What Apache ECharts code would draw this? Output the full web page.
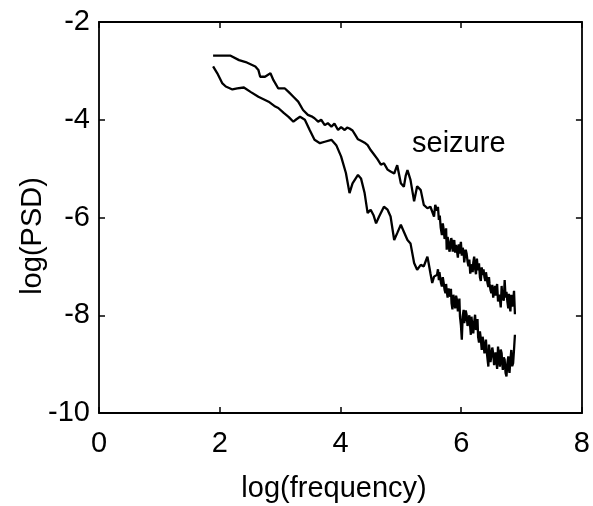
<!DOCTYPE html>
<html>
<head>
<meta charset="utf-8">
<script src="https://cdn.jsdelivr.net/npm/echarts@6/dist/echarts.min.js"></script>
<style>
  html, body { margin: 0; padding: 0; background: #fff; }
  #main { width: 593px; height: 506px; }
</style>
</head>
<body>
<div id="main"></div>
<script>
// seizure spectrum (upper curve)
var seizureLogF = [1.89, 2.18, 2.32, 2.43, 2.59, 2.64, 2.67, 2.75, 2.84, 2.89, 2.97, 3.08, 3.14, 3.22, 3.30, 3.38, 3.46, 3.52, 3.57, 3.63,
    3.68, 3.74, 3.79, 3.85, 3.90, 3.96, 4.01, 4.07, 4.11, 4.15, 4.20, 4.24, 4.29, 4.34, 4.40, 4.45, 4.50, 4.55, 4.61, 4.67,
    4.72, 4.78, 4.83, 4.89, 4.94, 5.00, 5.05, 5.08, 5.11, 5.16, 5.22, 5.27, 5.33, 5.38, 5.44, 5.49, 5.55, 5.57,
    5.60, 5.615, 5.63, 5.645, 5.66, 5.68, 5.695, 5.71, 5.725, 5.74, 5.75, 5.76, 5.775, 5.79, 5.805, 5.82, 5.835, 5.85, 5.86, 5.87,
    5.885, 5.90, 5.915, 5.93, 5.945, 5.96, 5.97, 5.98, 5.995, 6.01, 6.025, 6.04, 6.05, 6.06, 6.075, 6.09, 6.105, 6.12, 6.135, 6.15,
    6.165, 6.18, 6.19, 6.20, 6.215, 6.23, 6.245, 6.26, 6.27, 6.28, 6.295, 6.31, 6.325, 6.34, 6.355, 6.37, 6.385, 6.40, 6.41, 6.42,
    6.435, 6.45, 6.46, 6.47, 6.485, 6.50, 6.515, 6.53, 6.545, 6.56, 6.57, 6.58, 6.595, 6.61, 6.625, 6.64, 6.655, 6.67, 6.68, 6.69,
    6.705, 6.72, 6.735, 6.75, 6.765, 6.78, 6.79, 6.80, 6.815, 6.83, 6.845, 6.86, 6.875, 6.89];
var seizureLogPSD = [-2.69, -2.69, -2.78, -2.82, -2.91, -2.98, -3.12, -3.12, -3.05, -3.19, -3.36, -3.36, -3.43, -3.53, -3.63, -3.80, -3.90, -3.93, -3.97, -4.04,
    -4.00, -4.11, -4.07, -4.14, -4.08, -4.21, -4.15, -4.21, -4.16, -4.18, -4.22, -4.30, -4.40, -4.43, -4.47, -4.52, -4.62, -4.70, -4.80, -4.92,
    -4.89, -5.02, -5.06, -5.10, -4.93, -5.30, -5.37, -5.15, -5.03, -5.23, -5.67, -5.36, -5.44, -5.74, -5.81, -5.78, -5.98, -5.74,
    -5.86, -5.78, -6.05, -5.96, -6.20, -6.36, -6.12, -6.25, -6.44, -6.38, -6.22, -6.66, -6.40, -6.49, -6.70, -6.62, -6.42, -6.50, -6.70, -6.58,
    -6.46, -6.72, -6.56, -6.68, -6.82, -6.55, -6.74, -6.62, -6.50, -6.78, -6.62, -6.70, -6.92, -6.88, -6.66, -6.74, -6.90, -7.00, -6.86, -7.15,
    -7.02, -6.96, -7.12, -6.92, -6.80, -7.05, -7.16, -6.84, -6.98, -7.08, -6.94, -7.22, -7.30, -7.02, -7.18, -7.06, -7.22, -7.30, -7.12, -7.20,
    -7.34, -7.42, -7.22, -7.36, -7.48, -7.55, -7.38, -7.64, -7.50, -7.40, -7.60, -7.46, -7.36, -7.72, -7.58, -7.66, -7.84, -7.40, -7.62, -7.58,
    -7.70, -7.28, -7.64, -7.52, -7.72, -7.86, -7.56, -7.80, -7.92, -7.58, -7.82, -7.72, -7.50, -7.98];

// background spectrum (lower curve)
var backgroundLogF = [1.89, 1.96, 2.04, 2.10, 2.21, 2.29, 2.40, 2.51, 2.64, 2.81, 2.92, 2.97, 3.06, 3.14, 3.22, 3.27, 3.33, 3.41, 3.49, 3.57,
    3.66, 3.74, 3.85, 3.93, 4.01, 4.09, 4.15, 4.20, 4.29, 4.34, 4.40, 4.45, 4.50, 4.55, 4.59, 4.64, 4.72, 4.78, 4.83, 4.89,
    4.94, 5.00, 5.05, 5.11, 5.16, 5.22, 5.27, 5.33, 5.38, 5.41, 5.44, 5.46, 5.49, 5.52, 5.55,
    5.60, 5.615, 5.63, 5.64, 5.65, 5.665, 5.68, 5.695, 5.71, 5.725, 5.74, 5.75, 5.76, 5.775, 5.79, 5.805, 5.82, 5.83, 5.84, 5.855,
    5.87, 5.885, 5.90, 5.915, 5.93, 5.945, 5.96, 5.97, 5.98, 5.995, 6.01, 6.025, 6.04, 6.05, 6.06, 6.075, 6.09, 6.105, 6.12, 6.135,
    6.15, 6.16, 6.17, 6.185, 6.20, 6.215, 6.23, 6.245, 6.26, 6.27, 6.28, 6.295, 6.31, 6.325, 6.34, 6.355, 6.37, 6.385, 6.40, 6.41,
    6.42, 6.435, 6.45, 6.46, 6.47, 6.485, 6.50, 6.515, 6.53, 6.545, 6.56, 6.57, 6.58, 6.595, 6.61, 6.625, 6.64, 6.655, 6.67, 6.68,
    6.69, 6.705, 6.72, 6.735, 6.75, 6.765, 6.78, 6.79, 6.80, 6.815, 6.83, 6.845, 6.86, 6.875, 6.89];
var backgroundLogPSD = [-2.91, -3.05, -3.25, -3.32, -3.38, -3.36, -3.34, -3.43, -3.53, -3.63, -3.73, -3.76, -3.86, -3.94, -4.04, -3.99, -3.94, -4.00, -4.21, -4.41,
    -4.48, -4.45, -4.41, -4.52, -4.75, -5.09, -5.50, -5.30, -5.13, -5.20, -5.50, -5.91, -5.84, -5.96, -6.12, -5.98, -5.78, -5.84, -5.98, -6.46,
    -6.32, -6.15, -6.29, -6.46, -6.53, -6.93, -7.07, -6.97, -7.00, -6.90, -6.80, -6.93, -7.14, -7.34, -7.21,
    -7.17, -7.06, -7.28, -7.12, -7.21, -7.34, -7.41, -7.22, -7.34, -7.48, -7.55, -7.36, -7.50, -7.64, -7.45, -7.56, -7.62, -7.46, -7.75, -7.88,
    -7.58, -7.72, -7.86, -7.60, -7.69, -7.92, -7.80, -7.66, -8.03, -8.20, -8.50, -8.02, -7.89, -8.16, -8.09, -7.90, -7.99, -8.22, -8.12, -8.00,
    -8.26, -8.40, -8.03, -8.22, -8.37, -8.14, -7.99, -8.30, -8.23, -8.08, -8.44, -8.56, -8.33, -8.48, -8.71, -8.44, -8.57, -8.78, -8.62, -8.50,
    -8.71, -8.88, -9.05, -8.60, -8.71, -8.96, -8.82, -8.66, -8.78, -9.02, -8.94, -8.76, -8.91, -9.10, -8.64, -8.86, -9.05, -8.70, -8.78, -9.00,
    -9.12, -8.86, -8.91, -9.18, -9.25, -8.98, -8.84, -9.10, -9.18, -8.92, -8.71, -9.04, -8.98, -8.70, -8.40];

var xTicks = [0, 8, 2];   // min, max, interval
var yTicks = [-10, -2, 2];
var annotation = { text: 'seizure', x: 5.96, y: -4.49 };

function pairs(xs, ys) {
    return xs.map(function (x, i) { return [x, ys[i]]; });
}

var myChart = echarts.init(document.getElementById('main'));

var font = 'Liberation Sans, Arial, Helvetica, sans-serif';
var frameLine = { show: true, onZero: false, lineStyle: { color: '#000', width: 1.8 } };
var inTick = { show: true, inside: true, length: 6, lineStyle: { color: '#000', width: 1.5 } };

var option = {
    backgroundColor: '#fff',
    animation: false,
    grid: { left: 99, right: 9, top: 22, bottom: 93 },
    graphic: [
        {   // y axis title
            type: 'text', x: 33, y: 236, rotation: Math.PI / 2,
            style: { text: 'log(PSD)', fill: '#000', font: '29px ' + font, textAlign: 'center', textVerticalAlign: 'middle' }
        },
        {   // x axis title
            type: 'text', x: 334, y: 489,
            style: { text: 'log(frequency)', fill: '#000', font: '29px ' + font, textAlign: 'center', textVerticalAlign: 'middle' }
        }
    ],
    xAxis: [
        {
            type: 'value', min: xTicks[0], max: xTicks[1], interval: xTicks[2],
            position: 'bottom',
            axisLine: frameLine, axisTick: inTick, splitLine: { show: false },
            axisLabel: { color: '#000', fontSize: 29, fontFamily: font, margin: 16 }
        },
        {
            type: 'value', min: xTicks[0], max: xTicks[1], interval: xTicks[2],
            position: 'top',
            axisLine: frameLine, axisTick: inTick, splitLine: { show: false },
            axisLabel: { show: false }
        }
    ],
    yAxis: [
        {
            type: 'value', min: yTicks[0], max: yTicks[1], interval: yTicks[2],
            position: 'left',
            axisLine: frameLine, axisTick: inTick, splitLine: { show: false },
            axisLabel: { color: '#000', fontSize: 29, fontFamily: font, margin: 9 }
        },
        {
            type: 'value', min: yTicks[0], max: yTicks[1], interval: yTicks[2],
            position: 'right',
            axisLine: frameLine, axisTick: inTick, splitLine: { show: false },
            axisLabel: { show: false }
        }
    ],
    series: [
        {
            name: 'seizure', type: 'line', showSymbol: false,
            data: pairs(seizureLogF, seizureLogPSD),
            lineStyle: { color: '#000', width: 2.3 }
        },
        {
            name: 'background', type: 'line', showSymbol: false,
            data: pairs(backgroundLogF, backgroundLogPSD),
            lineStyle: { color: '#000', width: 2.3 }
        },
        {
            name: 'label', type: 'scatter', symbolSize: 0,
            data: [[annotation.x, annotation.y]],
            itemStyle: { opacity: 1 },
            label: {
                show: true, position: 'inside', formatter: annotation.text, opacity: 1,
                color: '#000', fontSize: 29, fontFamily: font
            }
        }
    ]
};

myChart.setOption(option);
</script>
</body>
</html>
